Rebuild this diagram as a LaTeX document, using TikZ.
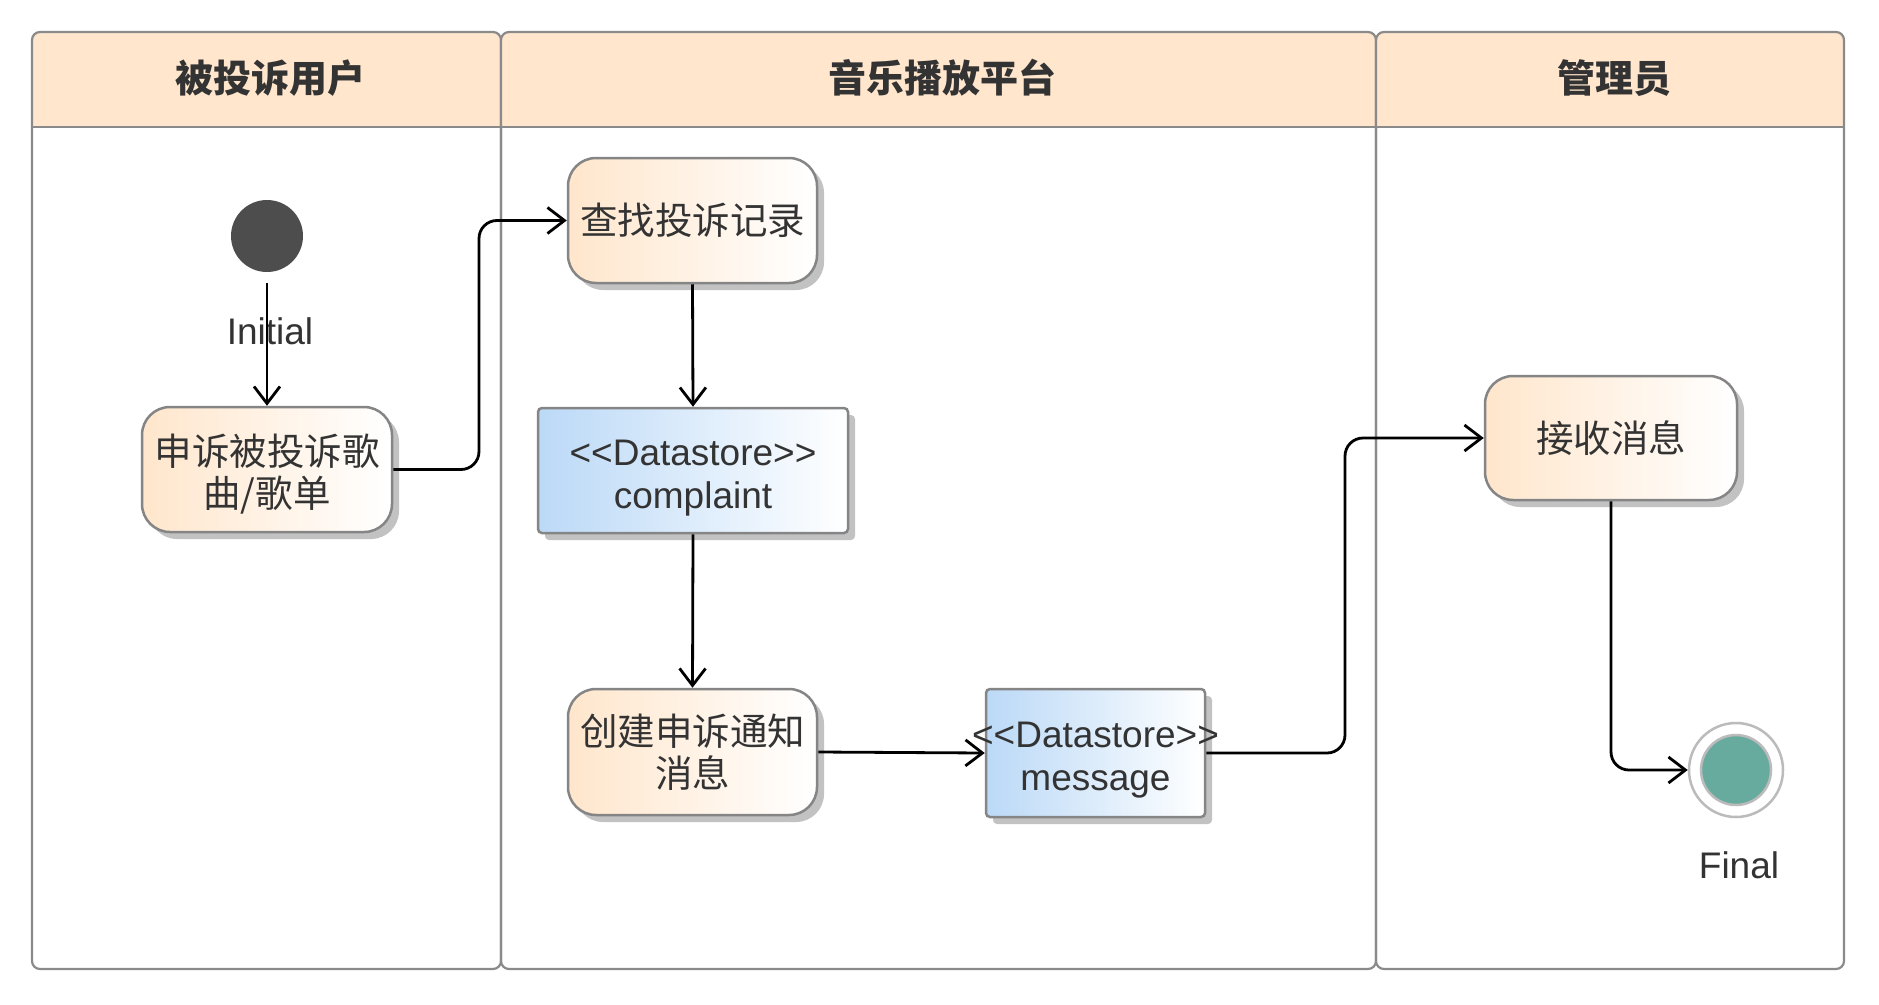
\documentclass[tikz,border=0pt]{standalone}
\usepackage{fontspec}
\setmainfont{Liberation Sans}
\newfontfamily\lat{Liberation Sans}
\newfontfamily\cjk{Noto Sans CJK SC}
\usetikzlibrary{arrows.meta,shadows}
\definecolor{peach}{HTML}{FFE6CC}
\definecolor{dsblue}{HTML}{BBD9F7}
\definecolor{lanegray}{HTML}{8A8A8A}
\definecolor{nodegray}{HTML}{858585}
\definecolor{shad}{HTML}{C2C2C2}
\definecolor{txt}{HTML}{333333}
\definecolor{inidark}{HTML}{4D4D4D}
\definecolor{fingreen}{HTML}{67AB9F}
\definecolor{finring}{HTML}{BBBBBB}
\tikzset{
  lane/.style={draw=lanegray, line width=2.2pt, rounded corners=8pt},
  hdr/.style={text=txt, inner sep=0pt, font=\cjk\bfseries\fontsize{38}{42}\selectfont},
  act/.style={draw=nodegray, line width=2.5pt, rounded corners=28pt,
    left color=peach, right color=white, minimum width=250pt, minimum height=125pt,
    inner sep=0pt, align=center, text=txt, font=\cjk\fontsize{37.5}{42}\selectfont,
    drop shadow={shadow xshift=7pt, shadow yshift=-7pt, fill=shad, opacity=1}},
  acttext/.style={align=center, text=txt, inner sep=0pt, font=\cjk\fontsize{37.5}{42}\selectfont},
  dsbox/.style={draw=nodegray, line width=2.5pt, rounded corners=4pt,
    left color=dsblue, right color=white, minimum height=125pt, inner sep=0pt,
    drop shadow={shadow xshift=7pt, shadow yshift=-7pt, fill=shad, opacity=1}},
  dstext/.style={align=center, text=txt, inner sep=0pt, font=\lat\fontsize{37}{43}\selectfont},
  lbl/.style={text=txt, inner sep=0pt, font=\lat\fontsize{37}{40}\selectfont},
  flow/.style={draw=black, line width=2.8pt, rounded corners=18pt,
    -{Straight Barb[length=17pt,width=26pt]}},
}
\begin{document}
\begin{tikzpicture}[x=1pt,y=-1pt]
\useasboundingbox[fill=white] (0,0) rectangle (1879,1004);
% swimlanes
\foreach \xa/\xb/\nm/\t in {32/501/laneA/被投诉用户, 501/1376/laneB/音乐播放平台, 1376/1844/laneC/管理员}{
  \begin{scope}
    \clip[rounded corners=8pt] (\xa,32) rectangle (\xb,969);
    \fill[peach] (\xa,32) rectangle (\xb,127);
  \end{scope}
  \draw[lane] (\xa,32) rectangle (\xb,969);
  \draw[draw=lanegray, line width=2.2pt] (\xa,127) -- (\xb,127);
  \node[hdr] (\nm) at ({(\xa+\xb)/2+4},78) {\t};
}
% initial
\node[circle, fill=inidark, minimum size=72pt, inner sep=0pt] (ini) at (267,236) {};
\node[lbl] (inilbl) at (270,331) {Initial};
% activities
\node[act] (a1) at (267,469.5) {};
\node[acttext] (a1t) at ([yshift=-5pt]a1.center) {申诉被投诉歌\\曲/歌单};
\node[act, minimum width=249pt] (a2) at (692.5,220.5) {查找投诉记录};
\node[dsbox, minimum width=310pt] (cmp) at (693,470.5) {};
\node[dstext] (cmpt) at ([yshift=-8pt]cmp.center) {<<Datastore>>\\complaint};
\node[act, minimum width=249pt, minimum height=126pt] (a3) at (692.5,752) {创建申诉通知\\消息};
\node[dsbox, minimum width=219pt, minimum height=128pt] (msg) at (1095.5,753) {};
\node[dstext] (msgt) at ([yshift=-7pt]msg.center) {<<Datastore>>\\message};
\node[act, minimum width=252pt, minimum height=124pt] (a4) at (1611,438) {接收消息};
% final
\node[circle, draw=finring, line width=2.5pt, fill=white, minimum size=94pt, inner sep=0pt] (fin) at (1736,770) {};
\node[circle, draw=finring, line width=2.5pt, fill=fingreen, minimum size=70pt, inner sep=0pt] (fincore) at (fin.center) {};
\node[lbl] (finlbl) at (1739,865) {Final};
% routing points
\coordinate (k1) at (479,350);
\coordinate (k2) at (1345,600);
% connectors
\draw[flow, shorten <=11pt] (ini.south) -- (a1.north);
\draw[flow] (a1.east) -| (k1) |- (a2.west);
\draw[flow] (a2.south) -- (cmp.north);
\draw[flow] (cmp.south) -- (a3.north);
\draw[flow] (a3.east) -- (msg.west);
\draw[flow] (msg.east) -| (k2) |- (a4.west);
\draw[flow] (a4.south) |- (fin.west);
\end{tikzpicture}
\end{document}
